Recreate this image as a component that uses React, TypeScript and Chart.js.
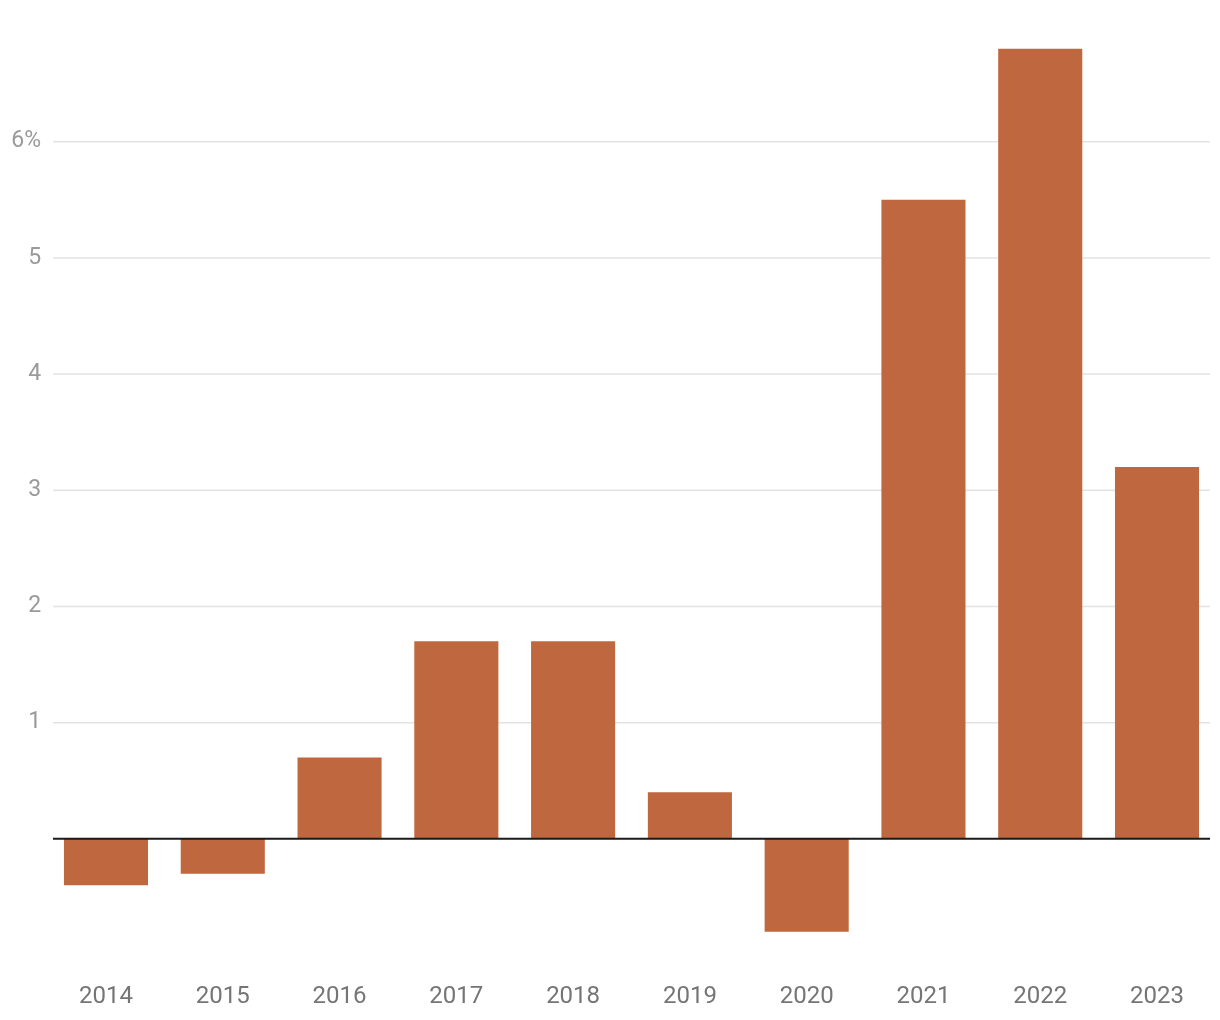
import React, { useEffect, useRef } from "react";
import { Chart, registerables } from "chart.js";

Chart.register(...registerables);

const categories = ["2014", "2015", "2016", "2017", "2018", "2019", "2020", "2021", "2022", "2023"];
const values = [-0.4, -0.3, 0.7, 1.7, 1.7, 0.4, -0.8, 5.5, 6.8, 3.2];
const gridValues = [1, 2, 3, 4, 5, 6];
const tickLabels: Record<number, string> = { 1: "1", 2: "2", 3: "3", 4: "4", 5: "5", 6: "6%" };

const GRID_LEFT = 53;
const GRID_RIGHT = 1210;

const gridPlugin = {
  id: "customGrid",
  beforeDatasetsDraw(chart: any) {
    const { ctx, scales } = chart;
    const y = scales.y;
    ctx.save();
    ctx.strokeStyle = "#e3e3e3";
    ctx.lineWidth = 1.5;
    gridValues.forEach((v) => {
      const py = y.getPixelForValue(v);
      ctx.beginPath();
      ctx.moveTo(GRID_LEFT, py);
      ctx.lineTo(GRID_RIGHT, py);
      ctx.stroke();
    });
    ctx.restore();
  },
  afterDatasetsDraw(chart: any) {
    const { ctx, scales } = chart;
    const py = scales.y.getPixelForValue(0);
    ctx.save();
    ctx.strokeStyle = "#1a1a1a";
    ctx.lineWidth = 2;
    ctx.beginPath();
    ctx.moveTo(GRID_LEFT, py);
    ctx.lineTo(GRID_RIGHT, py);
    ctx.stroke();
    ctx.restore();
  },
};

export default function App() {
  const ref = useRef<HTMLCanvasElement | null>(null);
  useEffect(() => {
    document.body.style.margin = "0";
    if (!ref.current) return;
    const chart = new Chart(ref.current, {
      type: "bar",
      data: {
        labels: categories,
        datasets: [
          {
            data: values,
            backgroundColor: "#bf673f",
            barPercentage: 0.72,
            categoryPercentage: 1,
          },
        ],
      },
      plugins: [gridPlugin],
      options: {
        animation: false,
        responsive: false,
        maintainAspectRatio: false,
        layout: { padding: { top: 25.5, right: 4.6, left: 0, bottom: 0 } },
        plugins: { legend: { display: false }, tooltip: { enabled: false } },
        scales: {
          x: {
            grid: { display: false, drawTicks: false },
            border: { display: false },
            ticks: {
              color: "#757575",
              font: { family: "Roboto", size: 24 },
              padding: 28,
              maxRotation: 0,
            },
            afterFit(axis: any) {
              axis.height = 65;
            },
          },
          y: {
            min: -1,
            max: 7,
            grid: { display: false, drawTicks: false },
            border: { display: false },
            afterBuildTicks(axis: any) {
              axis.ticks = gridValues.map((v) => ({ value: v }));
            },
            ticks: {
              color: "#9a9a9a",
              font: { family: "Roboto", size: 23 },
              padding: 6.5,
              callback: (v: any) => tickLabels[v as number] ?? "",
            },
            afterFit(axis: any) {
              axis.width = 47.6;
            },
          },
        },
      },
    });
    return () => chart.destroy();
  }, []);
  return (
    <div style={{ width: 1220, height: 1020 }}>
      <canvas ref={ref} width={1220} height={1020} style={{ width: 1220, height: 1020, display: "block" }} />
    </div>
  );
}
